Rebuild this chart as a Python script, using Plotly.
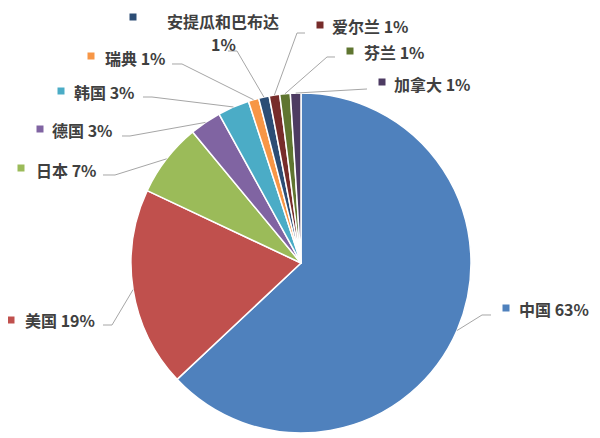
import math
import plotly.graph_objects as go

# the page body has an 8px margin, so the figure is laid out in window pixels
OFF = 8
W, H = 600 - OFF, 438 - OFF

countries = ["中国", "美国", "日本", "德国", "韩国", "瑞典", "安提瓜和巴布达", "爱尔兰", "芬兰", "加拿大"]
shares = [63, 19, 7, 3, 3, 1, 1, 1, 1, 1]
colors = ["#4F81BD", "#C0504D", "#9BBB59", "#8064A2", "#4BACC6",
          "#F79646", "#2C4D75", "#772C2A", "#5F7530", "#4D3B62"]

# pie geometry in window pixels
CX, CY, R = 301, 263, 170

# label layout in window pixels: key square centre, text x / y,
# leader line points from label side (before reaching the slice edge)
label_layout = {
    "中国": dict(key=(506, 308), tx=517, ty=309, line=[(491, 315), (482, 315)]),
    "美国": dict(key=(11, 320), tx=23, ty=320, line=[(103, 325), (112, 325)]),
    "日本": dict(key=(21, 168), tx=34, ty=170, line=[(103, 175), (115, 175)]),
    "德国": dict(key=(40, 129), tx=50, ty=130, line=[(122, 136), (130, 136)]),
    "韩国": dict(key=(61, 91), tx=72, ty=92, line=[(143, 97), (152, 97)]),
    "瑞典": dict(key=(91, 56), tx=103, ty=58, line=[(172, 64), (182, 64)]),
    "安提瓜和巴布达": dict(key=(133, 17), tx=223, ty=OFF, ty2=31,
                     line=[(228, 51), (237, 51)]),
    "爱尔兰": dict(key=(320, 25), tx=330, ty=26, line=[(305, 33), (297, 33)]),
    "芬兰": dict(key=(350, 51), tx=362, ty=52, line=[(335, 57), (327, 57)]),
    "加拿大": dict(key=(382, 82), tx=392, ty=84, line=[(367, 89)]),
}


def px(x):
    return (x - OFF) / W


def py(y):
    return 1 - (y - OFF) / H


fig = go.Figure()
fig.add_trace(
    go.Pie(
        labels=countries,
        values=shares,
        sort=False,
        direction="clockwise",
        rotation=0,
        marker=dict(colors=colors, line=dict(color="white", width=1.5)),
        textinfo="none",
        hoverinfo="label+percent",
        showlegend=False,
        domain=dict(x=[px(CX - R), px(CX + R)], y=[py(CY + R), py(CY - R)]),
    )
)

shapes = []
annotations = []
total = sum(shares)
cum = 0
for name, val, col in zip(countries, shares, colors):
    mid = (cum + val / 2) / total * 2 * math.pi
    cum += val
    tip = (CX + R * math.sin(mid), CY - R * math.cos(mid))
    lay = label_layout[name]
    pts = lay["line"] + [tip]
    path = "M " + " L ".join(f"{px(x):.5f},{py(y):.5f}" for x, y in pts)
    shapes.append(dict(type="path", xref="paper", yref="paper", path=path,
                       line=dict(color="#A6A6A6", width=1)))
    kx, ky = lay["key"]
    shapes.append(dict(type="rect", xref="paper", yref="paper",
                       x0=px(kx - 3.5), x1=px(kx + 3.5), y0=py(ky + 3.5), y1=py(ky - 3.5),
                       fillcolor=col, line=dict(width=0)))
    if "ty2" in lay:
        # long name: name and percentage on two centred lines at the top edge
        annotations.append(dict(x=px(lay["tx"]), y=py(lay["ty"]), xref="paper", yref="paper",
                                text=f"<b>{name}</b>", showarrow=False, borderpad=0,
                                xanchor="center", yanchor="top"))
        annotations.append(dict(x=px(lay["tx"]), y=py(lay["ty2"]), xref="paper", yref="paper",
                                text=f"<b>{val}%</b>", showarrow=False, borderpad=0,
                                xanchor="center", yanchor="top"))
    else:
        annotations.append(dict(x=px(lay["tx"]), y=py(lay["ty"]), xref="paper", yref="paper",
                                text=f"<b>{name} {val}%</b>", showarrow=False,
                                xanchor="left", yanchor="middle"))

fig.update_layout(
    width=W,
    height=H,
    margin=dict(l=0, r=0, t=0, b=0),
    paper_bgcolor="white",
    plot_bgcolor="white",
    font=dict(family="Noto Sans CJK SC, Liberation Sans, sans-serif", size=16, color="#404040"),
    shapes=shapes,
    annotations=annotations,
)

fig.write_html("out.html")
